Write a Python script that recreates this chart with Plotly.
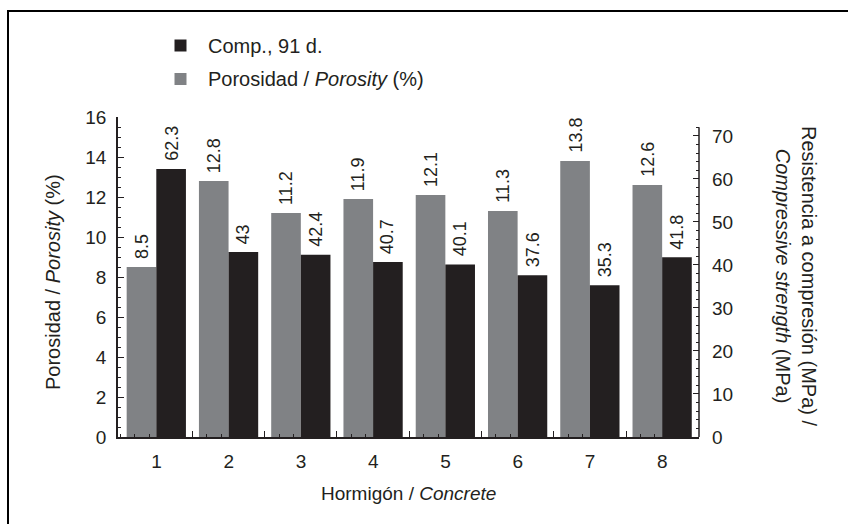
import plotly.graph_objects as go

# Concrete mixes and measured properties
concretes = [1, 2, 3, 4, 5, 6, 7, 8]
porosity = [8.5, 12.8, 11.2, 11.9, 12.1, 11.3, 13.8, 12.6]          # %
strength_91d = [62.3, 43, 42.4, 40.7, 40.1, 37.6, 35.3, 41.8]      # MPa

left_ticks = [0, 2, 4, 6, 8, 10, 12, 14, 16]
right_ticks = [0, 10, 20, 30, 40, 50, 60, 70]
right_minor = [v for v in range(2, 73, 2) if v % 10]
RIGHT_TOP = 72

GRAY = "#808285"
DARK = "#231f20"
FONT = "Liberation Sans, Arial, sans-serif"

W, H = 848, 524
ML, MR, MT, MB = 118, 149, 117, 87
PW, PH = W - ML - MR, H - MT - MB


def px_x(p):
    return (p - ML) / PW


def px_y(p):
    return (H - MB - p) / PH


BAR_W = 0.41
XR = [0.47, 8.51]

fig = go.Figure()

fig.add_trace(go.Bar(
    x=concretes, y=porosity, name="Porosidad / <i>Porosity</i> (%)",
    marker=dict(color=GRAY, line=dict(width=0)),
    width=BAR_W, offset=-BAR_W, showlegend=False,
))
fig.add_trace(go.Bar(
    x=concretes, y=strength_91d, name="Comp., 91 d.", yaxis="y2",
    marker=dict(color=DARK, line=dict(width=0)),
    width=BAR_W, offset=0, showlegend=False,
))

# value labels above each bar, rotated
label_font = dict(family=FONT, size=18, color=DARK)
for c, v in zip(concretes, porosity):
    fig.add_annotation(x=c - BAR_W / 2, y=v, xref="x", yref="y",
                       text=f"{v:g}", textangle=-90, showarrow=False,
                       xanchor="center", yanchor="bottom", yshift=6,
                       font=label_font)
for c, v in zip(concretes, strength_91d):
    fig.add_annotation(x=c + BAR_W / 2, y=v, xref="x", yref="y2",
                       text=f"{v:g}", textangle=-90, showarrow=False,
                       xanchor="center", yanchor="bottom", yshift=6,
                       font=label_font)

axis_common = dict(showgrid=False, zeroline=False, linecolor=DARK,
                   linewidth=1.5, tickcolor=DARK, tickwidth=1.2,
                   tickfont=dict(family=FONT, size=19, color=DARK))

# Category labels sit midway between the boundary tick marks
fig.update_layout(
    width=W, height=H, autosize=False,
    margin=dict(l=ML, r=MR, t=MT, b=MB),
    paper_bgcolor="white", plot_bgcolor="white",
    barmode="overlay",
    xaxis=dict(range=XR,
               tickvals=[c + 0.5 for c in concretes],
               ticktext=[str(c) for c in concretes],
               ticklabelshift=-36, ticklabelstandoff=6,
               ticks="inside", ticklen=6, showline=True,
               minor=dict(tickmode="linear", tick0=0.5, dtick=0.2,
                          ticks="inside", ticklen=3, tickcolor=DARK,
                          tickwidth=1.2, showgrid=False),
               **axis_common),
    yaxis=dict(range=[0, 16], tickvals=left_ticks, ticks="inside", ticklen=6,
               showline=True, ticklabelstandoff=6,
               minor=dict(dtick=0.5, ticks="inside", ticklen=3,
                          tickcolor=DARK, tickwidth=1.2, showgrid=False),
               **axis_common),
    yaxis2=dict(range=[0, 74.4], overlaying="y", side="right", anchor="x",
                tickvals=right_ticks, ticks="inside", ticklen=6,
                ticklabelstandoff=12,
                minor=dict(tickvals=right_minor, ticks="inside", ticklen=3,
                           tickcolor=DARK, tickwidth=1.2, showgrid=False),
                **{**axis_common, "showline": False}),
)

# right axis spine, stopping at its last tick
fig.add_shape(type="line", xref="paper", yref="y2", x0=1, x1=1,
              y0=0, y1=RIGHT_TOP, line=dict(color=DARK, width=1.5))

# axis titles
title_font = dict(family=FONT, size=20, color=DARK)
fig.add_annotation(text="Porosidad / <i>Porosity</i> (%)", textangle=-90,
                   xref="paper", yref="paper", x=px_x(53), y=px_y(282),
                   xanchor="center", yanchor="middle",
                   showarrow=False, font=title_font)
fig.add_annotation(text="Resistencia a compresión (MPa) /<br><i>Compressive strength</i> (MPa)",
                   textangle=90, xref="paper", yref="paper",
                   x=px_x(796), y=px_y(276), xanchor="center", yanchor="middle",
                   showarrow=False, font=title_font)
fig.add_annotation(text="Hormigón / <i>Concrete</i>", xref="paper", yref="paper",
                   x=px_x(408), y=px_y(493), xanchor="center", yanchor="middle",
                   showarrow=False, font=dict(family=FONT, size=19, color=DARK))

# legend
legend_items = [("Comp., 91 d.", DARK, 45.5), ("Porosidad / <i>Porosity</i> (%)", GRAY, 79)]
for label, color, cy in legend_items:
    fig.add_shape(type="rect", xref="paper", yref="paper",
                  x0=px_x(174.5), x1=px_x(186.5), y0=px_y(cy + 6), y1=px_y(cy - 6),
                  fillcolor=color, line=dict(width=0))
    fig.add_annotation(text=label, xref="paper", yref="paper",
                       x=px_x(206), y=px_y(cy), xanchor="left", yanchor="middle",
                       showarrow=False, font=dict(family=FONT, size=20, color=DARK))

# outer frame (top and left edges visible)
fig.add_shape(type="rect", xref="paper", yref="paper",
              x0=px_x(8), y0=px_y(600), x1=px_x(900), y1=px_y(11),
              line=dict(color="black", width=2), fillcolor="rgba(0,0,0,0)")

fig.write_html("out.html")
